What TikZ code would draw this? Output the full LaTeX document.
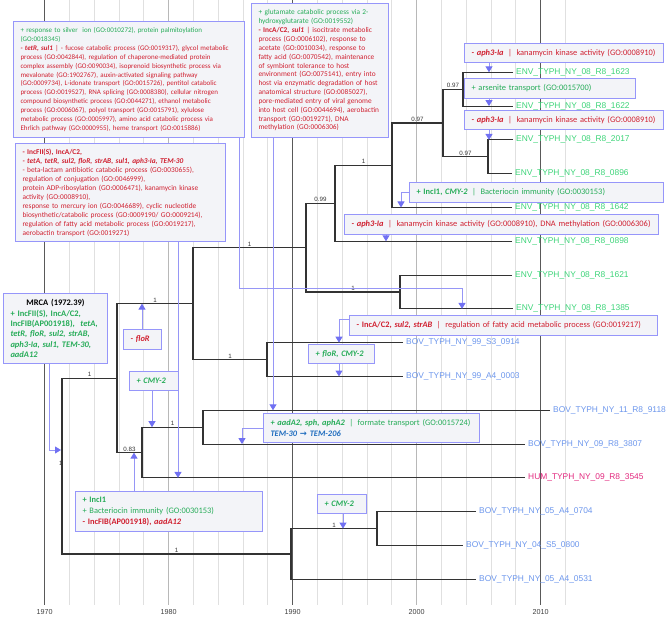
\documentclass[tikz,border=0pt]{standalone}
\usepackage{fontspec}
\setmainfont{Carlito}
\newfontfamily\arialfont{Liberation Sans}
\newfontfamily\symfont{DejaVu Sans}
\usetikzlibrary{arrows.meta}
\definecolor{gainclr}{RGB}{38,172,88}
\definecolor{lossclr}{RGB}{208,32,48}
\definecolor{envclr}{RGB}{60,212,120}
\definecolor{bovclr}{RGB}{108,150,236}
\definecolor{humclr}{RGB}{226,40,126}
\definecolor{temclr}{RGB}{30,108,190}
\definecolor{boxline}{RGB}{150,150,250}
\definecolor{boxfill}{RGB}{243,244,248}
\definecolor{hintline}{RGB}{150,150,246}
\definecolor{hinttip}{RGB}{112,112,242}
\newcommand{\gene}[1]{\textbf{\textit{#1}}}
\newcommand{\sep}{\hspace{4.5pt}|\hspace{4.5pt}}
\tikzset{
  annot/.style={draw=boxline, fill=boxfill, line width=1pt, anchor=north west, align=left,
    inner xsep=7pt, inner ysep=2pt, font=\fontsize{8.4}{10.7}\selectfont},
  longnote/.style={annot, font=\fontsize{7.35}{8.9}\selectfont},
  leaf/.style={anchor=west, inner xsep=3pt, inner ysep=1pt, font=\arialfont\fontsize{8.4}{10}\selectfont},
  support/.style={above, inner sep=0.8pt, text=black!80, font=\arialfont\fontsize{6.2}{7}\selectfont},
  branch/.style={draw=black!80, line width=1.1pt},
  hint/.style={draw=hintline, line width=1pt, -{Triangle[width=7pt,length=6pt,color=hinttip]}},
  gridminor/.style={draw=black!12, line width=0.7pt},
  griddark/.style={draw=black!65, line width=0.6pt},
  gridlight/.style={draw=black!28, line width=1.4pt},
}
\begin{document}
\begin{tikzpicture}[x=1pt,y=-1pt]
    \useasboundingbox (0,0) rectangle (669,617);
    \foreach \yr in {1970,1972,...,2012}
        \draw[gridminor] ({44.6+(\yr-1970)*12.4},0) -- ({44.6+(\yr-1970)*12.4},605);
    \foreach \yr in {1980,2000}
        \draw[gridlight] ({44.6+(\yr-1970)*12.4},0) -- ({44.6+(\yr-1970)*12.4},605);
    \foreach \yr in {1970,1990,2010}
        \draw[griddark] ({44.6+(\yr-1970)*12.4},0) -- ({44.6+(\yr-1970)*12.4},605);
    \foreach \yr in {1970,1980,...,2010}
        \node[text=black!75, font=\arialfont\fontsize{7.2}{8}\selectfont] (yr\yr) at ({44.6+(\yr-1970)*12.4},612) {\yr};

    \begin{scope}[every node/.style={leaf}]
        \node[text=envclr] (L1623) at (513,72.3) {ENV\_TYPH\_NY\_08\_R8\_1623};
        \node[text=envclr] (L1622) at (513,106.1) {ENV\_TYPH\_NY\_08\_R8\_1622};
        \node[text=envclr] (L2017) at (513,139.9) {ENV\_TYPH\_NY\_08\_R8\_2017};
        \node[text=envclr] (L0896) at (512,173.7) {ENV\_TYPH\_NY\_08\_R8\_0896};
        \node[text=envclr] (L1642) at (512,207.5) {ENV\_TYPH\_NY\_08\_R8\_1642};
        \node[text=envclr] (L0898) at (512,241.3) {ENV\_TYPH\_NY\_08\_R8\_0898};
        \node[text=envclr] (L1621) at (512,275.1) {ENV\_TYPH\_NY\_08\_R8\_1621};
        \node[text=envclr] (L1385) at (513,308.9) {ENV\_TYPH\_NY\_08\_R8\_1385};
        \node[text=bovclr] (L0914) at (403,342.7) {BOV\_TYPH\_NY\_99\_S3\_0914};
        \node[text=bovclr] (L0003) at (403,376.5) {BOV\_TYPH\_NY\_99\_A4\_0003};
        \node[text=bovclr] (L9118) at (550,410.3) {BOV\_TYPH\_NY\_11\_R8\_9118};
        \node[text=bovclr] (L3807) at (525,444.1) {BOV\_TYPH\_NY\_09\_R8\_3807};
        \node[text=humclr] (L3545) at (525,477.9) {HUM\_TYPH\_NY\_09\_R8\_3545};
        \node[text=bovclr] (L0704) at (476,511.7) {BOV\_TYPH\_NY\_05\_A4\_0704};
        \node[text=bovclr] (L0800) at (463,545.5) {BOV\_TYPH\_NY\_04\_S5\_0800};
        \node[text=bovclr] (L0531) at (476,579.3) {BOV\_TYPH\_NY\_05\_A4\_0531};
    \end{scope}

    \coordinate (a) at (463,89.2);
    \coordinate (b) at (488,156.8);
    \coordinate (c) at (443,123);
    \coordinate (d) at (392,165.3);
    \coordinate (e) at (335,203.3);
    \coordinate (f) at (400,292);
    \coordinate (g) at (306,247.6);
    \coordinate (h) at (267,359.6);
    \coordinate (i) at (193,303.6);
    \coordinate (j) at (203,427.2);
    \coordinate (k) at (142,452.6);
    \coordinate (l) at (117,378.1);
    \coordinate (m) at (377,528.6);
    \coordinate (n) at (291,554);
    \coordinate (root) at (62,466);

    \draw[branch] (L1623.west) -| (a) |- (L1622.west);
    \draw[branch] (L2017.west) -| (b) |- (L0896.west);
    \draw[branch] (a) -| node[pos=.25,support] (sa) {0.97} (c) |- node[pos=.75,support] (sb) {0.97} (b);
    \draw[branch] (c) -| node[pos=.25,support] (sc) {0.97} (d) |- (L1642.west);
    \draw[branch] (d) -| node[pos=.25,support] (sd) {1} (e) |- (L0898.west);
    \draw[branch] (L1621.west) -| (f) |- (L1385.west);
    \draw[branch] (e) -| node[pos=.25,support] (se) {0.99} (g) |- node[pos=.75,support] (sf) {1} (f);
    \draw[branch] (L0914.west) -| (h) |- (L0003.west);
    \draw[branch] (g) -| node[pos=.25,support] (sg) {1} (i) |- node[pos=.75,support] (sh) {1} (h);
    \draw[branch] (L9118.west) -| (j) |- (L3807.west);
    \draw[branch] (j) -| node[pos=.25,support] (sj) {1} (k) |- (L3545.west);
    \draw[branch] (i) -| node[pos=.25,support] (si) {1} (l) |- node[pos=.75,support] (sk) {0.83} (k);
    \draw[branch] (L0704.west) -| (m) |- (L0800.west);
    \draw[branch] (m) -| node[pos=.25,support] (sm) {1} (n) |- (L0531.west);
    \draw[branch] (l) -| node[pos=.25,support] (sl) {1} (root) |- node[pos=.75,support] (sn) {1} (n);
    \node[support, anchor=south east, inner sep=0.3pt] (sroot) at (63,466) {1};

    \node[longnote, text=lossclr, text width=217pt, minimum height=116pt, font=\fontsize{7}{8.9}\selectfont] (silver) at (13,21) {%
        \textcolor{gainclr}{+ response to silver\ \ ion (GO:0010272), protein palmitoylation}\\
        \textcolor{gainclr}{(GO:0018345)}\\
        \mbox{\gene{- tetR, sul1} | - fucose catabolic process (GO:0019317), glycol metabolic}\\
        process (GO:0042844), regulation of chaperone-mediated protein\\
        complex assembly (GO:0090034), isoprenoid biosynthetic process via\\
        mevalonate (GO:1902767), auxin-activated signaling pathway\\
        (GO:0009734), L-idonate transport (GO:0015726), pentitol catabolic\\
        process (GO:0019527), RNA splicing (GO:0008380), cellular nitrogen\\
        compound biosynthetic process (GO:0044271), ethanol metabolic\\
        process (GO:0006067), polyol transport (GO:0015791), xylulose\\
        metabolic process (GO:0005997), amino acid catabolic process via\\
        Ehrlich pathway (GO:0000955), heme transport (GO:0015886)};
    \node[longnote, text=lossclr, text width=196pt, minimum height=98pt, font=\fontsize{7.35}{9}\selectfont] (plasloss) at (15,143) {%
        \textbf{- IncFII(S), IncA/C2,}\\
        \gene{- tetA, tetR, sul2, floR, strAB, sul1, aph3-Ia, TEM-30}\\
        - beta-lactam antibiotic catabolic process (GO:0030655),\\
        regulation of conjugation (GO:0046999),\\
        protein ADP-ribosylation (GO:0006471), kanamycin kinase\\
        activity (GO:0008910),\\
        response to mercury ion (GO:0046689), cyclic nucleotide\\
        biosynthetic/catabolic process (GO:0009190/ GO:0009214),\\
        regulation of fatty acid metabolic process (GO:0019217),\\
        aerobactin transport (GO:0019271)};
    \node[longnote, text=lossclr, text width=123pt, minimum height=134pt, font=\fontsize{7.35}{8.85}\selectfont] (glut) at (251,3) {%
        \textcolor{gainclr}{+ glutamate catabolic process via 2-}\\
        \textcolor{gainclr}{hydroxyglutarate (GO:0019552)}\\
        \textbf{- IncA/C2, \textit{sul1}} | isocitrate metabolic\\
        process (GO:0006102), response to\\
        acetate (GO:0010034), response to\\
        fatty acid (GO:0070542), maintenance\\
        of symbiont tolerance to host\\
        environment (GO:0075141), entry into\\
        host via enzymatic degradation of host\\
        anatomical structure (GO:0085027),\\
        pore-mediated entry of viral genome\\
        into host cell (GO:0044694), aerobactin\\
        transport (GO:0019271), DNA\\
        methylation (GO:0006306)};
    \node[annot, text=lossclr, text width=185pt, minimum height=19pt] (kanA) at (464,43) {\gene{- aph3-Ia}\sep kanamycin kinase activity (GO:0008910)};
    \node[annot, text=gainclr, text width=157pt, minimum height=20pt] (arsen) at (464,78) {+ arsenite transport (GO:0015700)};
    \node[annot, text=lossclr, text width=185pt, minimum height=19pt] (kanB) at (464,110) {\gene{- aph3-Ia}\sep kanamycin kinase activity (GO:0008910)};
    \node[annot, text=gainclr, text width=240pt, minimum height=20pt] (bact) at (409,182) {\textbf{+ IncI1, \textit{CMY-2}}\sep Bacteriocin immunity (GO:0030153)};
    \node[annot, text=lossclr, text width=300pt, minimum height=20pt] (kanC) at (344,214) {\gene{- aph3-Ia}\sep kanamycin kinase activity (GO:0008910), DNA methylation (GO:0006306)};
    \node[annot, text=lossclr, text width=294pt, minimum height=20pt] (fatty) at (349,315) {\textbf{- IncA/C2, \textit{sul2, strAB}}\sep regulation of fatty acid metabolic process (GO:0019217)};
    \node[annot, text=lossclr, text width=24pt, minimum height=20pt] (flor) at (123,329) {\gene{- floR}};
    \node[annot, text=gainclr, text width=35pt, minimum height=19pt] (cmyA) at (129,371) {\gene{+ CMY-2}};
    \node[annot, text=gainclr, text width=52pt, minimum height=19pt] (florcmy) at (308,344) {\gene{+ floR, CMY-2}};
    \node[annot, text=gainclr, text width=90pt, minimum height=70pt, font=\fontsize{8.5}{10.3}\selectfont] (mrca) at (3,293) {%
        \makebox[90pt][c]{\textcolor{black}{\textbf{MRCA (1972.39)}}}\\
        \textbf{+ IncFII(S), IncA/C2,}\\
        \textbf{IncFIB(AP001918),\ \ \textit{tetA,}}\\
        \gene{tetR, floR, sul2, strAB,}\\
        \gene{aph3-Ia, sul1, TEM-30,}\\
        \gene{aadA12}};
    \node[annot, text=gainclr, text width=202pt, minimum height=29pt] (formate) at (263,413) {%
        \gene{+ aadA2, sph, aphA2}\sep formate transport (GO:0015724)\\
        \textcolor{temclr}{\gene{TEM-30 {\symfont\bfseries →} TEM-206}}};
    \node[annot, text=gainclr, text width=173pt, minimum height=40pt] (inci) at (75,491) {%
        \textbf{+ IncI1}\\
        + Bacteriocin immunity (GO:0030153)\\
        \textcolor{lossclr}{\textbf{- IncFIB(AP001918), \textit{aadA12}}}};
    \node[annot, text=gainclr, text width=35pt, minimum height=19pt] (cmyB) at (317,494) {\gene{+ CMY-2}};

    \coordinate (t1385) at (462,308.9);
    \coordinate (kS) at (239,289);
    \coordinate (t9118) at (273,410.3);
    \coordinate (t3545) at (178,477.9);
    \coordinate (kM) at (49,450);
    \coordinate (troot) at (61,450);
    \coordinate (tflor) at (142,303.6);
    \coordinate (tcmyA) at (152,427.2);
    \coordinate (t0003) at (339,376.5);
    \coordinate (t0914) at (339,342.7);
    \coordinate (t3807) at (242,444.1);
    \coordinate (tinci) at (134,452.6);
    \coordinate (tcmyB) at (343,528.6);
    \coordinate (t1623) at (489,72.3);
    \coordinate (t1622) at (489,106.1);
    \coordinate (t2017) at (489,139.9);
    \coordinate (t1642) at (401,207.5);
    \coordinate (t0898) at (386,241.3);

    \draw[hint] (silver.south -| kS) -- (kS) -| (t1385);
    \draw[hint] (glut.south -| t9118) -- (t9118);
    \draw[hint] (plasloss.south -| t3545) -- (t3545);
    \draw[hint] (mrca.south -| kM) -- (kM) -- (troot);
    \draw[hint] (flor.north -| tflor) -- (tflor);
    \draw[hint] (cmyA.south -| tcmyA) -- (tcmyA);
    \draw[hint] (florcmy.south -| t0003) -- (t0003);
    \draw[hint] ([yshift=6pt]fatty.west) -| (t0914);
    \draw[hint] (formate.west) -| (t3807);
    \draw[hint] (inci.north -| tinci) -- (tinci);
    \draw[hint] (cmyB.south -| tcmyB) -- (tcmyB);
    \draw[hint] (kanA.south -| t1623) -- (t1623);
    \draw[hint] (arsen.south -| t1622) -- (t1622);
    \draw[hint] (kanB.south -| t2017) -- (t2017);
    \draw[hint] (bact.west) -| (t1642);
    \draw[hint] (kanC.south -| t0898) -- (t0898);
\end{tikzpicture}
\end{document}
